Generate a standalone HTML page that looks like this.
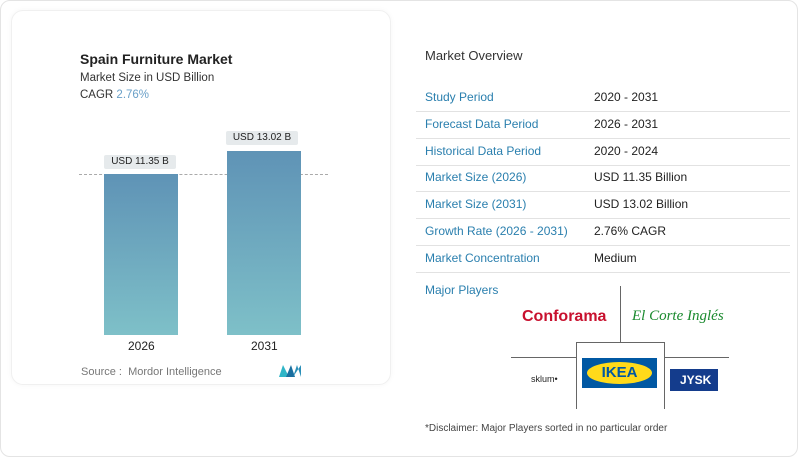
<!DOCTYPE html>
<html><head><meta charset="utf-8"><style>
*{margin:0;padding:0;box-sizing:border-box}
body{width:800px;height:459px;background:#fff;font-family:"Liberation Sans",sans-serif;position:relative;overflow:hidden}
.abs{position:absolute;white-space:nowrap}
.outer{position:absolute;left:0;top:0;width:798px;height:457px;border:1px solid #e4e4e4;border-radius:10px}
.card{position:absolute;left:11px;top:10px;width:380px;height:375px;border:1px solid #f0f0f0;border-radius:12px;box-shadow:0 0 6px rgba(0,0,0,0.04)}
.bar{position:absolute;width:74px;background:linear-gradient(#5f93b6,#7ec0c8)}
.lbl{position:absolute;background:#e6eaec;font-size:10px;color:#222;text-align:center;line-height:14px;border-radius:2px}
.lab{left:425px;color:#2a7fae;font-size:12px}
.val{left:594px;color:#222;font-size:12px}
.sep{position:absolute;left:416px;width:374px;height:1px;background:#e2e2e2}
</style></head><body>
<div class="outer"></div>
<div class="card"></div>
<div class="abs" style="left:80px;top:51px;font-size:14px;font-weight:bold;color:#222">Spain Furniture Market</div>
<div class="abs" style="left:80px;top:72px;font-size:11.5px;color:#333">Market Size in USD Billion</div>
<div class="abs" style="left:80px;top:89px;font-size:11.5px;color:#333">CAGR <span style="color:#6aa0c8">2.76%</span></div>
<div class="abs" style="left:79px;top:174px;width:249px;border-top:1px dashed #aaa"></div>
<div class="bar" style="left:104px;top:174px;height:161px"></div>
<div class="bar" style="left:227px;top:151px;height:184px"></div>
<div class="lbl" style="left:104px;top:155px;width:72px">USD 11.35 B</div>
<div class="lbl" style="left:226px;top:131px;width:72px">USD 13.02 B</div>
<div class="abs" style="left:128px;top:339px;font-size:12px;color:#222">2026</div>
<div class="abs" style="left:251px;top:339px;font-size:12px;color:#222">2031</div>
<div class="abs" style="left:81px;top:366px;font-size:11px;color:#777">Source :&nbsp; Mordor Intelligence</div>
<svg class="abs" style="left:279px;top:365px" width="22" height="12"><polygon points="0,12 4,0 10,12" fill="#2fb5c7"/><polygon points="7,12 12,0 16,12" fill="#1a6fa0"/><polygon points="14,12 18,0 22,12 22,0" fill="#2a8fb8"/></svg>

<div class="abs" style="left:425px;top:48px;font-size:13px;color:#333">Market Overview</div>
<div class="abs lab" style="top:90px">Study Period</div><div class="abs val" style="top:90px">2020 - 2031</div>
<div class="sep" style="top:111px"></div>
<div class="abs lab" style="top:117px">Forecast Data Period</div><div class="abs val" style="top:117px">2026 - 2031</div>
<div class="sep" style="top:138px"></div>
<div class="abs lab" style="top:144px">Historical Data Period</div><div class="abs val" style="top:144px">2020 - 2024</div>
<div class="sep" style="top:165px"></div>
<div class="abs lab" style="top:170px">Market Size (2026)</div><div class="abs val" style="top:170px">USD 11.35 Billion</div>
<div class="sep" style="top:191px"></div>
<div class="abs lab" style="top:197px">Market Size (2031)</div><div class="abs val" style="top:197px">USD 13.02 Billion</div>
<div class="sep" style="top:218px"></div>
<div class="abs lab" style="top:224px">Growth Rate (2026 - 2031)</div><div class="abs val" style="top:224px">2.76% CAGR</div>
<div class="sep" style="top:245px"></div>
<div class="abs lab" style="top:251px">Market Concentration</div><div class="abs val" style="top:251px">Medium</div>
<div class="sep" style="top:272px"></div>
<div class="abs lab" style="top:283px">Major Players</div>

<div class="abs" style="left:620px;top:286px;width:1px;height:56px;background:#666"></div>
<div class="abs" style="left:576px;top:342px;width:89px;height:67px;border:1px solid #666;border-bottom:none"></div>
<div class="abs" style="left:511px;top:357px;width:65px;height:1px;background:#666"></div>
<div class="abs" style="left:665px;top:357px;width:64px;height:1px;background:#666"></div>
<div class="abs" style="left:522px;top:308px;font-size:16px;font-weight:bold;color:#c8102e">Conforama</div>
<div class="abs" style="left:632px;top:308px;font-size:15px;font-style:italic;font-family:'Liberation Serif',serif;color:#1a8a2e">El Corte Inglés</div>
<div class="abs" style="left:531px;top:374px;font-size:9px;color:#222">sklum•</div>
<div class="abs" style="left:582px;top:358px;width:75px;height:30px;background:#0058a3"></div>
<div class="abs" style="left:587px;top:362px;width:65px;height:22px;background:#ffda1a;border-radius:50%;text-align:center;font-weight:bold;font-size:15px;line-height:22px;color:#0058a3">IKEA</div>
<div class="abs" style="left:670px;top:369px;width:48px;height:22px;background:#143c8c;color:#fff;font-weight:bold;font-size:12px;line-height:22px;padding-left:10px">JYSK</div>
<div class="abs" style="left:425px;top:423px;font-size:10px;color:#444">*Disclaimer: Major Players sorted in no particular order</div>
</body></html>
